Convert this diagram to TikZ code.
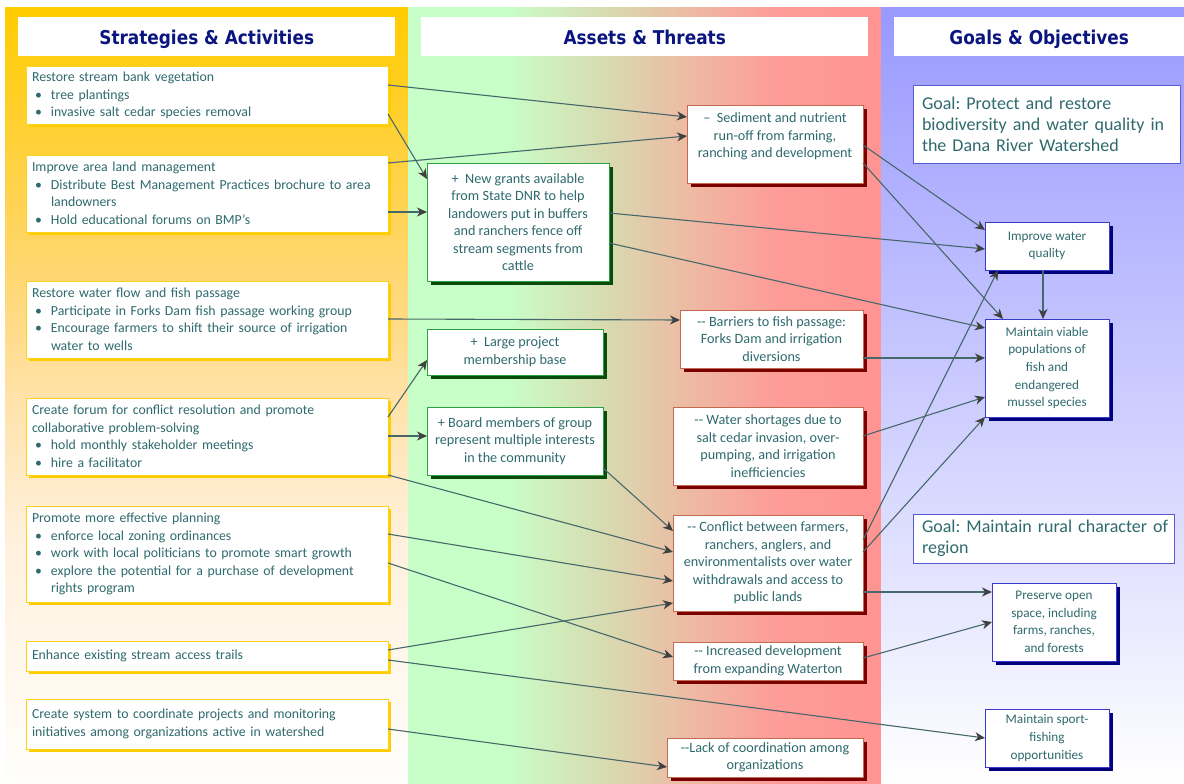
\documentclass[tikz,border=0pt]{standalone}
\usepackage{fontspec}
\setmainfont{Carlito}
\newfontfamily\hdrfamily{DejaVu Sans}
\usetikzlibrary{arrows.meta,shadows}
\frenchspacing

% palette
\definecolor{txtcol}{HTML}{2F6A6E}
\definecolor{hdrcol}{HTML}{0A1580}
\definecolor{sborder}{HTML}{FFD21A}
\definecolor{sshadow}{HTML}{FFCC00}
\definecolor{aborder}{HTML}{2EA043}
\definecolor{ashadow}{HTML}{0A4A0A}
\definecolor{tborder}{HTML}{C26A52}
\definecolor{tshadow}{HTML}{7A0000}
\definecolor{oborder}{HTML}{3A3ACB}
\definecolor{oshadow}{HTML}{00007A}
\definecolor{gborder}{HTML}{5A5AD0}
\definecolor{lncol}{HTML}{46686A}
\definecolor{tipcol}{HTML}{404040}
% panel colours
\definecolor{sgold}{HTML}{FFCC00}
\definecolor{sgoldb}{HTML}{FFD670}
\definecolor{scream}{HTML}{FFE2A8}
\definecolor{slight}{HTML}{FFF0DC}
\definecolor{swhite}{HTML}{FFFEFC}
\definecolor{agreen}{HTML}{C8FFC8}
\definecolor{atan}{HTML}{D8DAB0}
\definecolor{abrown}{HTML}{EEB9A2}
\definecolor{apink}{HTML}{FD9C98}
\definecolor{ared}{HTML}{FF9492}
\definecolor{ptop}{HTML}{9999FF}

\pgfdeclareverticalshading{stratshade}{100bp}{color(0bp)=(swhite); color(25bp)=(swhite);
  color(41bp)=(slight); color(50bp)=(scream); color(58bp)=(sgoldb); color(75bp)=(sgold); color(100bp)=(sgold)}
\pgfdeclarehorizontalshading{assetshade}{100bp}{color(0bp)=(agreen); color(35bp)=(agreen);
  color(46bp)=(atan); color(55bp)=(abrown); color(64bp)=(apink); color(75bp)=(ared); color(100bp)=(ared)}

\newcommand\bodyfont{\fontsize{13.8}{17.5}\selectfont}
\newcommand\midfont{\fontsize{14.2}{17.5}\selectfont}
\newcommand\objfont{\fontsize{13.2}{17.6}\selectfont}
\newcommand\goalfont{\fontsize{18}{21}\selectfont}
% column title: bold sans, slightly condensed
\newcommand\coltitle[1]{\scalebox{0.89}[1]{\hdrfamily\bfseries\fontsize{19}{22}\selectfont #1}}
% bullet item and its indented continuation line
\newcommand\blt{\newline\makebox[19pt][l]{\hspace{3pt}\textbullet}}
\newcommand\cnt{\newline\hspace*{19pt}}

\tikzset{
  base/.style={anchor=north west, outer sep=0pt, fill=white, line width=1pt, text=txtcol},
  strat/.style={base, draw=sborder, general shadow={fill=sshadow, shadow xshift=3pt, shadow yshift=-3pt},
    inner xsep=6pt, inner ysep=2pt, align=left, minimum width=362pt, text width=350pt, font=\bodyfont},
  asset/.style={base, draw=aborder, general shadow={fill=ashadow, shadow xshift=3.5pt, shadow yshift=-3.5pt},
    inner xsep=2pt, align=center, font=\midfont},
  threat/.style={base, draw=tborder, general shadow={fill=tshadow, shadow xshift=3.5pt, shadow yshift=-3.5pt},
    inner xsep=2pt, align=center, font=\midfont},
  obj/.style={base, draw=oborder, general shadow={fill=oshadow, shadow xshift=4pt, shadow yshift=-4pt},
    inner xsep=2pt, align=center, font=\objfont},
  goal/.style={base, draw=gborder, inner xsep=9pt, align=left, font=\goalfont},
  hdr/.style={anchor=north west, fill=white, text=hdrcol, inner sep=0pt, text height=17pt, text depth=2pt,
    minimum height=39pt},
  conn/.style={draw=lncol, line width=1.1pt, -{Stealth[length=10pt,width=9pt,inset=3pt,color=tipcol]}}
}

\begin{document}
\begin{tikzpicture}[x=1pt,y=-1pt]
\useasboundingbox (0,0) rectangle (1184,784);
\fill[white] (0,0) rectangle (1184,784);

% three column panels
\shade[shading=stratshade] (5,8) rectangle (408,784);
\shade[shading=assetshade] (408,8) rectangle (881,784);
\shade[top color=ptop, bottom color=white] (881,8) rectangle (1184,784);

% column headers
\node[hdr, minimum width=377pt] (hs) at (18,17) {\coltitle{Strategies \& Activities}};
\node[hdr, minimum width=447pt] (ha) at (421,17) {\coltitle{Assets \& Threats}};
\node[hdr, minimum width=290pt] (hg) at (894,17) {\coltitle{Goals \& Objectives}};

% strategies
\node[strat, minimum height=57pt] (s1) at (26,67) {Restore stream bank vegetation\blt tree plantings\blt invasive salt cedar species removal};
\node[strat, minimum height=77pt] (s2) at (26,155) {Improve area land management\blt Distribute Best Management Practices brochure to area\cnt landowners\blt Hold educational forums on BMP's};
\node[strat, minimum height=77pt] (s3) at (26,281) {Restore water flow and fish passage\blt Participate in Forks Dam fish passage working group\blt Encourage farmers to shift their source of irrigation\cnt water to wells};
\node[strat, minimum height=77pt] (s4) at (26,398) {Create forum for conflict resolution and promote\newline collaborative problem-solving\blt hold monthly stakeholder meetings\blt hire a facilitator};
\node[strat, minimum height=96pt] (s5) at (26,506) {Promote more effective planning\blt enforce local zoning ordinances\blt work with local politicians to promote smart growth\blt explore the potential for a purchase of development\cnt rights program};
\node[strat, minimum height=30pt] (s6) at (26,641) {Enhance existing stream access trails};
\node[strat, minimum height=50pt] (s7) at (26,699) {Create system to coordinate projects and monitoring\newline initiatives among organizations active in watershed};

% assets
\node[asset, minimum width=182pt, minimum height=118pt] (A) at (427,163) {+ \ New grants available\\ from State DNR to help\\ landowers put in buffers\\ and ranchers fence off\\ stream segments from\\ cattle};
\node[asset, minimum width=176pt, minimum height=46pt] (B) at (427,329) {+ \ Large project\\ membership base};
\node[asset, minimum width=176pt, minimum height=68pt] (C) at (427,407) {+ Board members of group\\ represent multiple interests\\ in the community};

% threats
\node[threat, minimum width=176pt, minimum height=78pt] (D) at (687,105) {-- \ Sediment and nutrient\\ run-off from farming,\\ ranching and development\\ \mbox{}};
\node[threat, minimum width=183pt, minimum height=58pt] (E) at (680,310) {-{}- Barriers to fish passage:\\ Forks Dam and irrigation\\ diversions};
\node[threat, minimum width=190pt, minimum height=78pt] (F) at (673,407) {-{}- Water shortages due to\\ salt cedar invasion, over-\\ pumping, and irrigation\\ inefficiencies};
\node[threat, minimum width=190pt, minimum height=96pt] (G) at (673,515) {-{}- Conflict between farmers,\\ ranchers, anglers, and\\ environmentalists over water\\ withdrawals and access to\\ public lands};
\node[threat, minimum width=190pt, minimum height=38pt] (H) at (673,642) {-{}- Increased development\\ from expanding Waterton};
\node[threat, minimum width=196pt, minimum height=39pt] (I) at (667,738) {-{}-Lack of coordination among\\ organizations};

% goals and objectives
\node[goal, minimum width=267pt, minimum height=77pt, text width=249pt] (g1) at (913,86) {\mbox{Goal: Protect and restore}\\ \mbox{biodiversity and water quality in}\\ \mbox{the Dana River Watershed}};
\node[obj, minimum width=124pt, minimum height=48pt] (IWQ) at (985,222) {Improve water\\ quality};
\node[obj, minimum width=124pt, minimum height=98pt] (MV) at (985,319) {Maintain viable\\ populations of\\ fish and\\ endangered\\ mussel species};
\node[goal, minimum width=261pt, minimum height=49pt, text width=243pt] (g2) at (913,514) {\mbox{Goal: Maintain rural character of}\\ region};
\node[obj, minimum width=124pt, minimum height=78pt] (POS) at (992,583) {Preserve open\\ space, including\\ farms, ranches,\\ and forests};
\node[obj, minimum width=124pt, minimum height=58pt] (MSF) at (985,709) {Maintain sport-\\ fishing\\ opportunities};

% strategies -> assets / threats
\draw[conn] (s1.east |- 0,85) -- (D.west |- 0,117);
\draw[conn] (s1.east |- 0,114) -- (A.west |- 0,179);
\draw[conn] (s2.east |- 0,163) -- (D.west |- 0,136);
\draw[conn] (s2.east |- 0,212) -- (A.west |- 0,212);
\draw[conn] (s3.east |- 0,319) -- (E.west |- 0,320);
\draw[conn] (s4.east |- 0,417) -- (B.west |- 0,360);
\draw[conn] (s4.east |- 0,436) -- (C.west |- 0,436);
\draw[conn] (s4.south east) -- (G.west |- 0,552);
\draw[conn] (C.east |- 0,468) -- (G.west |- 0,531);
\draw[conn] (s5.east |- 0,534) -- (G.west |- 0,581);
\draw[conn] (s5.east |- 0,563) -- (H.west |- 0,657);
\draw[conn] (s6.east |- 0,650) -- (G.west |- 0,603);
\draw[conn] (s6.east |- 0,660) -- (MSF.west |- 0,738);
\draw[conn] (s7.east |- 0,729) -- (I.west |- 0,767);

% assets / threats -> goals
\draw[conn] (A.east |- 0,213) -- (IWQ.west |- 0,249);
\draw[conn] (A.east |- 0,243) -- (MV.west |- 0,328);
\draw[conn] (D.east |- 0,145) -- (IWQ.west |- 0,230);
\draw[conn] (D.east |- 0,163) -- (MV.north -| 1003,0);
\draw[conn] (E.east |- 0,358) -- (MV.west |- 0,358);
\draw[conn] (F.east |- 0,436) -- (MV.west |- 0,397);
\draw[conn] (G.east |- 0,540) -- (IWQ.south -| 998,0);
\draw[conn] (G.east |- 0,552) -- (MV.south west);
\draw[conn] (G.east |- 0,592) -- (POS.west |- 0,592);
\draw[conn] (H.east |- 0,658) -- (POS.west |- 0,622);
\draw[conn] (IWQ.south -| 1043,0) -- (MV.north -| 1043,0);
\end{tikzpicture}
\end{document}
